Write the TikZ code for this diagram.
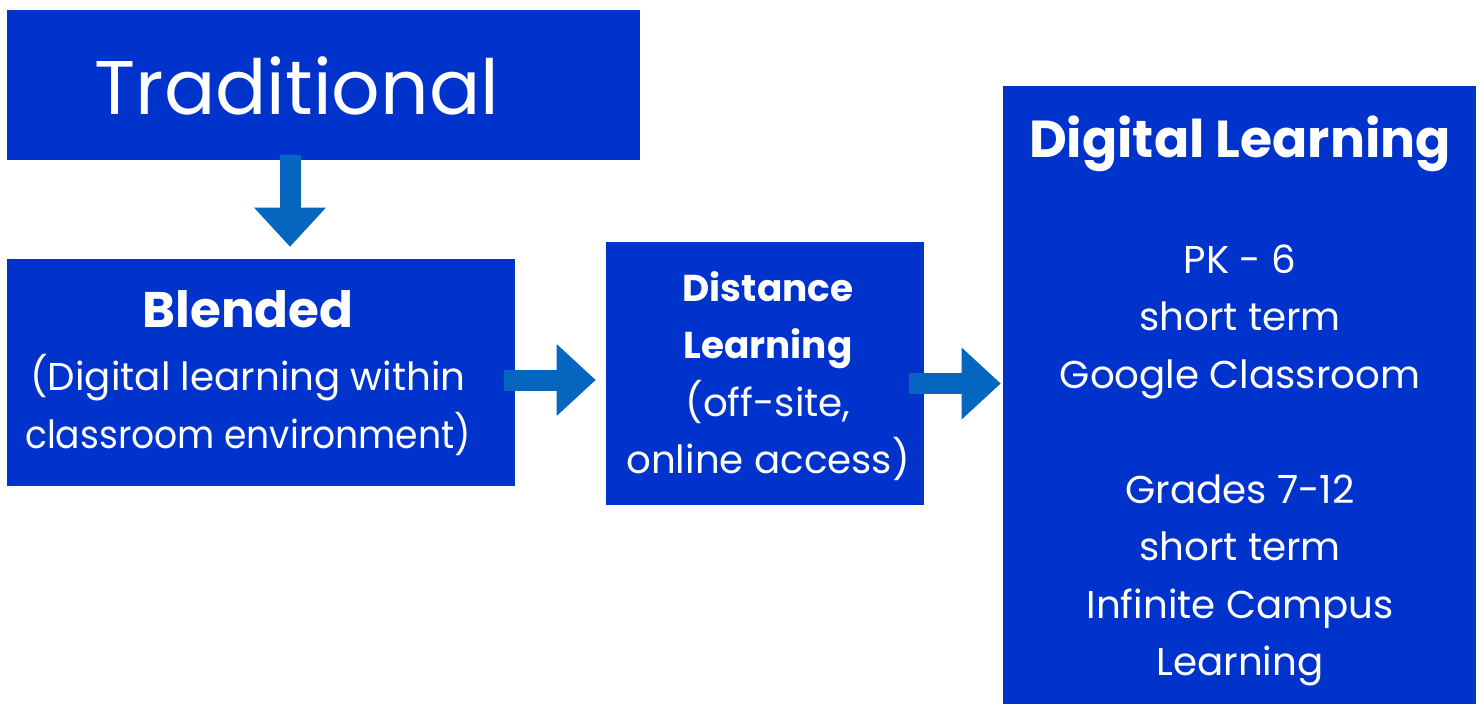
\documentclass[tikz,border=0pt]{standalone}
\usepackage{fontspec}
\setmainfont{Poppins}
\usetikzlibrary{arrows.meta,calc}
\definecolor{boxblue}{RGB}{0,51,204}
\definecolor{arrblue}{RGB}{5,102,192}
\newcommand{\hdb}[1]{{\fontsize{18.7}{28.75}\selectfont\bfseries #1}}
\begin{document}
\begin{tikzpicture}[x=0.5pt,y=-0.5pt,
  box/.style={fill=boxblue, draw=none, inner sep=0pt},
  txt/.style={text=white, align=center, inner sep=0pt},
  body/.style={font=\fontsize{19.4}{28.75}\selectfont},
  blockarrow/.style={draw=arrblue, line width=10.5pt,
    -{Triangle[width=36pt,length=19.5pt,line width=0pt]}}]
\useasboundingbox (0,0) rectangle (1481,705);
\node[box, minimum width=316.5pt, minimum height=75pt] (trad) at (323.5,85) {};
\node[box, minimum width=254pt, minimum height=113.5pt] (blend) at (261,372.5) {};
\node[box, minimum width=159pt, minimum height=131.5pt] (dist) at (765,373.5) {};
\node[box, minimum width=236.5pt, minimum height=309pt] (digi) at (1239.5,395) {};
\node[txt, font=\fontsize{38}{46}\selectfont] (tradt) at (297,86) {Traditional};
\node[txt, body] (blendt) at (248,373)
  {{\fontsize{25}{30}\selectfont\bfseries Blended}\\[3pt]
   (Digital learning within\\\scalebox{0.93}[1]{classroom environment)}};
\node[txt, body] (distt) at (768,376)
  {\hdb{Distance}\\\hdb{Learning}\\(off-site,\\online access)};
\node[txt, body] (digit) at (1240,401)
  {{\fontsize{26}{30}\selectfont\bfseries Digital Learning}\\[29pt]
   PK - 6\\short term\\Google Classroom\\[28.75pt]
   Grades 7-12\\short term\\Infinite Campus\\Learning};
\draw[blockarrow] ($(trad.south)+(-33.5,-5)$) -- ($(blend.north)+(29,-12)$);
\draw[blockarrow] ($(blend.east)+(-11,7.5)$) -- ($(dist.west)+(-10,6.5)$);
\draw[blockarrow] ($(dist.east)+(-15,10)$) -- ($(digi.west)+(-2,-11.5)$);
\end{tikzpicture}
\end{document}
